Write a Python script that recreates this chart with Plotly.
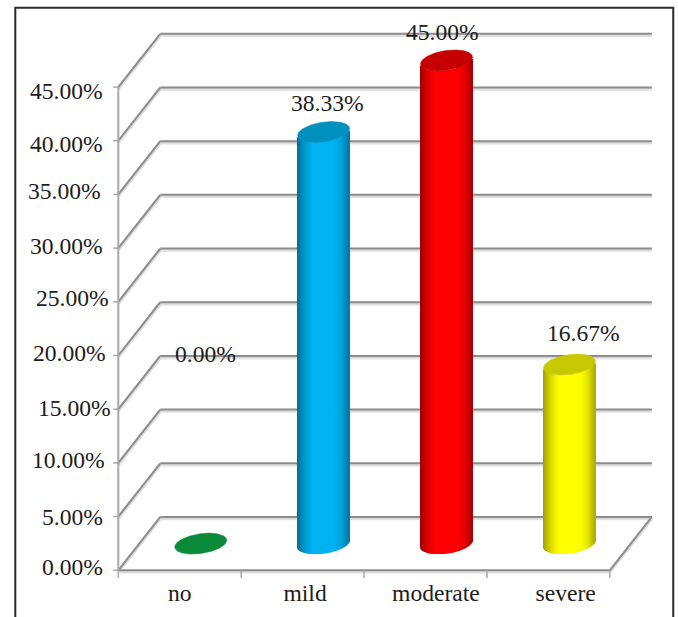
import numpy as np
import plotly.graph_objects as go

# Share of patients by severity
categories = ["no", "mild", "moderate", "severe"]
values = [0.00, 38.33, 45.00, 16.67]
y_ticks = [0, 5, 10, 15, 20, 25, 30, 35, 40, 45]

body_colors = [(11, 138, 58), (0, 178, 240), (255, 0, 0), (255, 255, 0)]
cap_colors = ["#0b8a3a", "#0090c0", "#c40000", "#c8c800"]

WIDTH, HEIGHT = 678, 617
X0_PX, Y0_PX = 118.5, 570.0      # pixel position of the chart origin
PX_PER_X, PX_PER_Y = 122.9, 10.74
DEPTH_X, DEPTH_Y = 42 / PX_PER_X, 53.3 / PX_PER_Y  # shear of the floor, per unit depth
X_LO, X_HI, Y_LO, Y_HI = -0.1, 4.4, -1.0, 50.5

GRID = "#8c8c8c"
SHADOW = "#dedede"
AXIS = "#a8a8a8"
TEXT = "#1c1c1c"
FONT = "Liberation Serif"
FONT_SIZE = 23.6

# Hand placement of the text, in pixels
tick_label_right = [105, 105, 107.5, 113, 108.5, 111, 105, 103.5, 105.5, 105]
tick_label_dy = [-3, 0, -3, -1, -3, -4, -2, -3, 3, 4]
value_label_dx = [4.7, 3.5, -4.3, 13.7]
value_label_dy = [-189.5, -29, -28.5, -31.5]
category_label_x = [0.5, 1.52, 2.585, 3.64]

# Cylinder footprint: a circle laid on the sheared floor
RADIUS_X = 24.65 / PX_PER_X
RADIUS_DEPTH = 0.197
t = np.linspace(0, 2 * np.pi, 241)


def ellipse(i, level):
    cx = i + 0.5 + 0.5 * DEPTH_X
    cy = level + 0.5 * DEPTH_Y
    ex = cx + RADIUS_X * np.cos(t) + DEPTH_X * RADIUS_DEPTH * np.sin(t)
    ey = cy + DEPTH_Y * RADIUS_DEPTH * np.sin(t)
    return ex, ey


def lower_edge(i, level, xs):
    # Height of the near side of the ellipse at each x
    ex, ey = ellipse(i, level)
    edge = np.full(len(xs), np.inf)
    for a, b, ya, yb in zip(ex[:-1], ex[1:], ey[:-1], ey[1:]):
        lo, hi = min(a, b), max(a, b)
        mask = (xs >= lo) & (xs <= hi)
        if hi > lo and mask.any():
            edge[mask] = np.minimum(edge[mask], ya + (yb - ya) * (xs[mask] - a) / (b - a))
    return edge


def shade(u):
    return np.interp(u, [0, 0.06, 0.16, 0.3, 0.72, 0.86, 0.95, 1],
                     [0.62, 0.72, 0.87, 1, 1, 0.9, 0.75, 0.68])


fig = go.Figure()

# Walls and floor
shapes = []


def seg(x0, y0, x1, y1, color, width):
    shapes.append(dict(type="line", xref="x", yref="y", x0=x0, y0=y0, x1=x1, y1=y1,
                       line=dict(color=color, width=width), layer="below"))


n_cat = len(categories)
for color, width, off in [(SHADOW, 3.5, -0.14), (GRID, 2, 0)]:
    for v in y_ticks:
        seg(0, v + off, DEPTH_X, v + DEPTH_Y + off, color, width)
        seg(DEPTH_X, v + DEPTH_Y + off, n_cat + DEPTH_X, v + DEPTH_Y + off, color, width)
    seg(0, off, n_cat, off, color, width)
    seg(n_cat, off, n_cat + DEPTH_X, DEPTH_Y + off, color, width)
seg(0, 0, 0, y_ticks[-1], AXIS, 2)
for v in y_ticks:
    seg(-5 / PX_PER_X, v, 0, v, AXIS, 1.5)
for i in range(n_cat + 1):
    seg(i, 0, i, -0.72, AXIS, 1.5)

# Frame around the chart, open past the bottom of the page
shapes.append(dict(type="path", xref="paper", yref="paper",
                   path="M {l} {b} L {l} {t} L {r} {t} L {r} {b}".format(
                       l=(15.5 - (X0_PX + X_LO * PX_PER_X)) / ((X_HI - X_LO) * PX_PER_X),
                       r=(673.5 - (X0_PX + X_LO * PX_PER_X)) / ((X_HI - X_LO) * PX_PER_X),
                       t=((Y0_PX - Y_LO * PX_PER_Y) - 7.5) / ((Y_HI - Y_LO) * PX_PER_Y),
                       b=((Y0_PX - Y_LO * PX_PER_Y) - 625) / ((Y_HI - Y_LO) * PX_PER_Y)),
                   line=dict(color="#2a2a2a", width=2), layer="above"))

# Cylinder bodies: narrow bars side by side carry the left-to-right shading
N_STRIPS = 52
for i, (cat, v, rgb) in enumerate(zip(categories, values, body_colors)):
    if v <= 0:
        continue
    ex, _ = ellipse(i, 0)
    xs = np.linspace(ex.min(), ex.max(), N_STRIPS + 1)
    mids = 0.5 * (xs[:-1] + xs[1:])
    base = lower_edge(i, 0, mids)
    top = lower_edge(i, v, mids)
    u = (mids - ex.min()) / (ex.max() - ex.min())
    colors = [f"rgb({int(rgb[0]*s)},{int(rgb[1]*s)},{int(rgb[2]*s)})" for s in shade(u)]
    fig.add_trace(go.Bar(x=mids, y=top - base, base=base, width=(xs[1] - xs[0]) * 1.25,
                         marker=dict(color=colors, line=dict(width=0)),
                         name=cat, showlegend=False))

# Top faces of the cylinders
for i, (cat, v, cap) in enumerate(zip(categories, values, cap_colors)):
    ex, ey = ellipse(i, v)
    fig.add_trace(go.Scatter(x=ex, y=ey, mode="lines", fill="toself", fillcolor=cap,
                             line=dict(color=cap, width=0.5), name=cat, showlegend=False))

annotations = []
# Value labels
for i, v in enumerate(values):
    annotations.append(dict(x=i + 0.5 + 0.5 * DEPTH_X, y=v + 0.5 * DEPTH_Y, xref="x", yref="y",
                            text=f"{v:.2f}%", showarrow=False, xanchor="center", yanchor="middle",
                            xshift=value_label_dx[i], yshift=-value_label_dy[i]))
# Value-axis labels
for v, right, dy in zip(y_ticks, tick_label_right, tick_label_dy):
    annotations.append(dict(x=0, y=v, xref="x", yref="y", text=f"{v:.2f}%", showarrow=False,
                            xanchor="right", yanchor="middle",
                            xshift=right - X0_PX, yshift=-dy))

fig.update_layout(
    width=WIDTH, height=HEIGHT,
    margin=dict(l=X0_PX + X_LO * PX_PER_X,
                r=WIDTH - (X0_PX + X_HI * PX_PER_X),
                t=Y0_PX - Y_HI * PX_PER_Y,
                b=HEIGHT - (Y0_PX - Y_LO * PX_PER_Y),
                autoexpand=False),
    paper_bgcolor="white", plot_bgcolor="white",
    barmode="overlay", showlegend=False,
    font=dict(family=FONT, size=FONT_SIZE, color=TEXT),
    shapes=shapes, annotations=annotations,
    xaxis=dict(range=[X_LO, X_HI], showgrid=False, zeroline=False, showline=False,
               tickmode="array", tickvals=category_label_x, ticktext=categories,
               ticks="", ticklabelstandoff=-5),
    yaxis=dict(range=[Y_LO, Y_HI], showgrid=False, zeroline=False, showline=False,
               tickmode="array", tickvals=y_ticks, ticks="", showticklabels=False),
)

fig.write_html("out.html", config=dict(displayModeBar=False))
